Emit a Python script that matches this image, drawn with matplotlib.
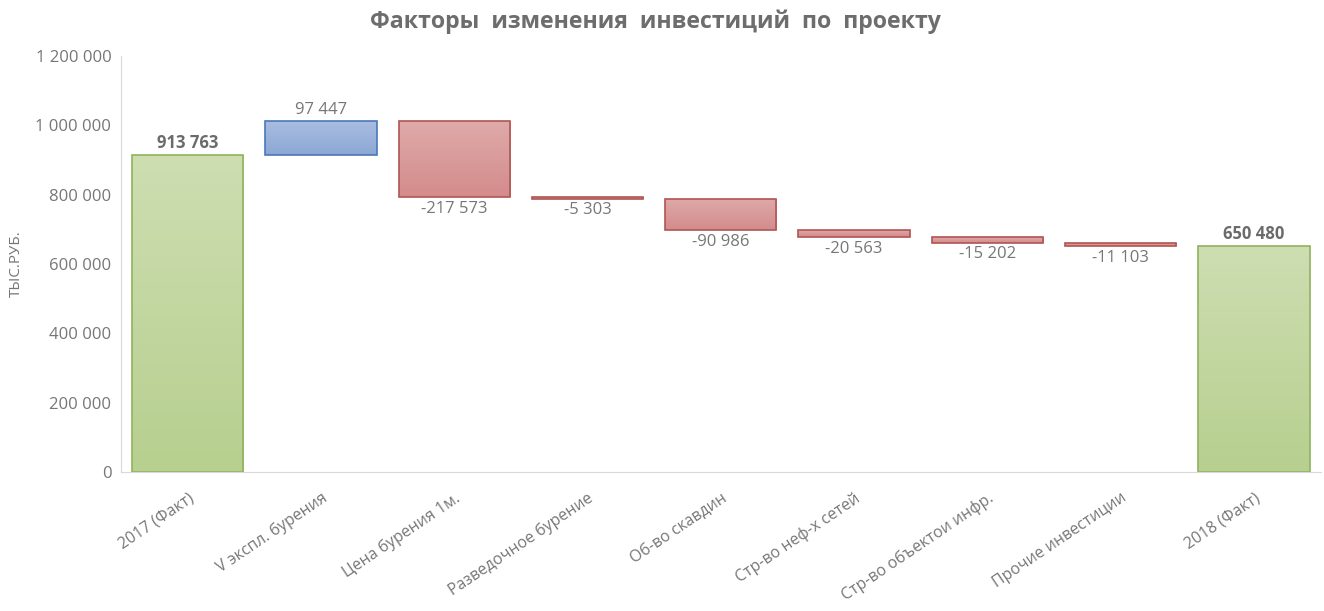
import numpy as np
import matplotlib.pyplot as plt
from matplotlib.colors import LinearSegmentedColormap

plt.rcParams['font.family'] = ['Open Sans', 'DejaVu Sans']

categories = ['2017 (Факт)', 'V экспл. бурения', 'Цена бурения 1м.', 'Разведочное бурение',
              'Об-во скавдин', 'Стр-во неф-х сетей', 'Стр-во объектои инфр.',
              'Прочие инвестиции', '2018 (Факт)']
start_value = 913763
changes = [97447, -217573, -5303, -90986, -20563, -15202, -11103]
end_value = 650480
title = 'Факторы  изменения  инвестиций  по  проекту'
ylabel = 'ТЫС.РУБ.'


def fmt(v):
    s = f'{abs(v):,}'.replace(',', ' ')
    return ('-' if v < 0 else '') + s


# waterfall bottoms / heights
bottoms = [0]
heights = [start_value]
level = start_value
for c in changes:
    if c >= 0:
        bottoms.append(level)
    else:
        bottoms.append(level + c)
    heights.append(abs(c))
    level += c
bottoms.append(0)
heights.append(end_value)

styles = {
    'total': (('#cddeb1', '#b7cf8f'), '#8fb35e'),
    'up': (('#a9bde0', '#8ca7d5'), '#4a78b8'),
    'down': (('#dfaaaa', '#d48b8b'), '#b05553'),
}
kinds = ['total'] + ['up' if c >= 0 else 'down' for c in changes] + ['total']

fig = plt.figure(figsize=(13.24, 6.11), dpi=100)
ax = fig.add_axes([0.0914, 0.2275, 0.906, 0.681])

x = np.arange(len(categories))
bars = ax.bar(x, heights, bottom=bottoms, width=0.835, linewidth=1.2)
grad = np.linspace(0, 1, 256).reshape(-1, 1)
for b, k in zip(bars, kinds):
    (c_top, c_bot), edge = styles[k]
    b.set_facecolor('none')
    b.set_edgecolor(edge)
    cmap = LinearSegmentedColormap.from_list(k, [c_bot, c_top])
    x0, y0 = b.get_x(), b.get_y()
    im = ax.imshow(grad, cmap=cmap, aspect='auto', origin='lower',
                   extent=(x0, x0 + b.get_width(), y0, y0 + b.get_height()), zorder=1)
    im.set_clip_path(b)
    b.set_zorder(2)

# value labels
label_vals = [start_value] + changes + [end_value]
for i, (v, b0, h) in enumerate(zip(label_vals, bottoms, heights)):
    if i == 0 or i == len(label_vals) - 1:
        ax.text(i, b0 + h + 9000, fmt(v), ha='center', va='bottom', fontsize=12,
                fontweight='bold', color='#6b6b6b')
    elif v >= 0:
        ax.text(i, b0 + h + 9000, fmt(v), ha='center', va='bottom', fontsize=12, color='#767676')
    else:
        ax.text(i, b0 - 11000, fmt(v), ha='center', va='top', fontsize=12, color='#767676')

ax.set_xlim(-0.5, len(categories) - 0.5)
ax.set_ylim(0, 1200000)
ax.set_yticks(np.arange(0, 1200001, 200000))
ax.set_yticklabels([fmt(t) for t in np.arange(0, 1200001, 200000)])
ax.set_xticks(x)
ax.set_xticklabels(categories, rotation=34, ha='right', rotation_mode='anchor')
ax.tick_params(axis='y', length=0, labelsize=12, labelcolor='#767676', pad=7)
ax.tick_params(axis='x', length=0, labelsize=11.4, labelcolor='#767676', pad=13)
for s in ['top', 'right']:
    ax.spines[s].set_visible(False)
ax.spines['left'].set_color('#d9d9d9')
ax.spines['bottom'].set_color('#d9d9d9')

fig.text(0.007, 0.568, ylabel, rotation=90, ha='left', va='center', fontsize=11, color='#767676')
fig.text(0.495, 0.965, title, ha='center', va='center', fontsize=16.7, fontweight='bold', color='#6d6d6d')

fig.savefig('out.png', dpi=100)
